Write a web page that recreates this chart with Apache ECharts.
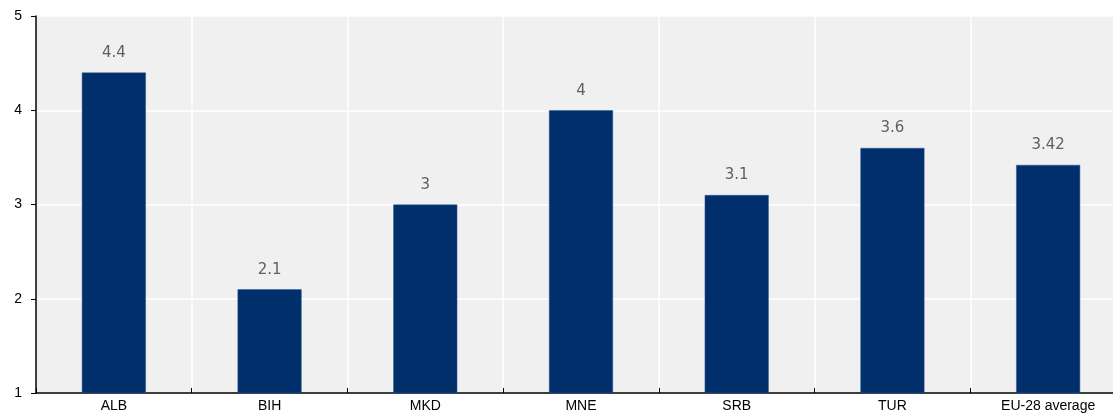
<!DOCTYPE html>
<html>
<head>
<meta charset="utf-8">
<script src="https://cdn.jsdelivr.net/npm/echarts@6/dist/echarts.min.js"></script>
<style>
  html, body { margin: 0; padding: 0; background: #ffffff; overflow: hidden; }
  /* the plot runs slightly past the right edge of the window */
  #chart { width: 1126px; height: 416px; }
</style>
</head>
<body>
<div id="chart"></div>
<script>
// Scores by economy, with the EU-28 average for reference
const categories = ['ALB', 'BIH', 'MKD', 'MNE', 'SRB', 'TUR', 'EU-28 average'];
const scores = [4.4, 2.1, 3, 4, 3.1, 3.6, 3.42];
const yTicks = { min: 1, max: 5, interval: 1 };

const chart = echarts.init(document.getElementById('chart'), null, { renderer: 'canvas' });

chart.setOption({
  animation: false,
  backgroundColor: '#ffffff',
  grid: {
    left: 36,
    top: 16,
    right: 0,
    bottom: 23,
    show: true,
    backgroundColor: '#f0f0f0',
    borderWidth: 0
  },
  xAxis: {
    type: 'category',
    data: categories,
    axisLine: { show: true, lineStyle: { color: '#000000', width: 1.5 } },
    axisTick: { show: true, inside: true, length: 5, lineStyle: { color: '#000000' } },
    axisLabel: { color: '#000000', fontFamily: 'Arial, Liberation Sans, sans-serif', fontSize: 14, margin: 6 },
    splitLine: { show: true, lineStyle: { color: '#ffffff', width: 1.5 } }
  },
  yAxis: {
    type: 'value',
    min: yTicks.min,
    max: yTicks.max,
    interval: yTicks.interval,
    axisLine: { show: true, lineStyle: { color: '#000000', width: 1.5 } },
    axisTick: { show: true, length: 5, lineStyle: { color: '#000000' } },
    axisLabel: { color: '#000000', fontFamily: 'Arial, Liberation Sans, sans-serif', fontSize: 14, margin: 14 },
    splitLine: { show: true, lineStyle: { color: '#ffffff', width: 1.5 } }
  },
  series: [{
    type: 'bar',
    data: scores,
    barWidth: 64,
    itemStyle: { color: '#002f6c', borderColor: '#2e5a8e', borderWidth: 0.5 },
    label: {
      show: true,
      position: 'top',
      distance: 12,
      color: '#5f5f5f',
      fontFamily: 'DejaVu Sans, sans-serif',
      fontSize: 15
    }
  }]
});
</script>
</body>
</html>
